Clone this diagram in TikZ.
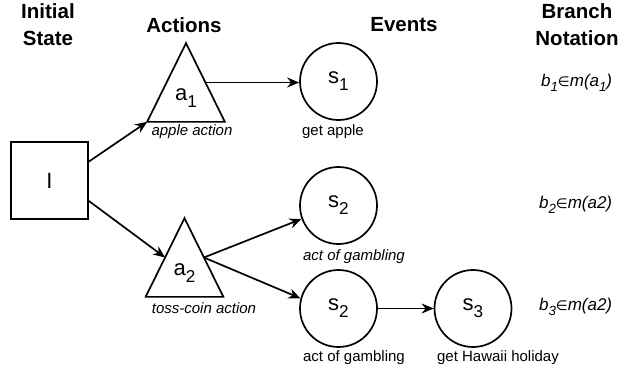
\documentclass[tikz,border=0pt]{standalone}
\usepackage{fontspec}
\setmainfont{Liberation Sans}
\newfontfamily\dejavu{DejaVu Sans}
\usetikzlibrary{arrows.meta,calc}
\newcommand{\lowsub}[1]{\raisebox{-0.32em}{\scalebox{0.78}{#1}}}
\begin{document}
\begin{tikzpicture}[x=1pt,y=-1pt,
  line width=1.7pt,
  hdr/.style={font=\bfseries\fontsize{20.5}{27}\selectfont,align=center,inner sep=0pt},
  statebox/.style={draw,minimum width=77pt,minimum height=77pt,inner sep=0pt,font=\fontsize{22}{22}\selectfont},
  actbox/.style={minimum width=76pt,minimum height=77pt,inner sep=0pt},
  evt/.style={draw,circle,minimum size=77pt,inner sep=0pt,font=\fontsize{22}{22}\selectfont},
  lbl/.style={font=\fontsize{15}{15}\selectfont,inner sep=0pt},
  ilbl/.style={lbl,font=\itshape\fontsize{15}{15}\selectfont},
  bn/.style={font=\itshape\fontsize{17}{17}\selectfont,inner sep=0pt,anchor=east},
  arr/.style={-{Stealth[length=12pt,width=10pt]},line width=1.7pt}]
\useasboundingbox (0,0) rectangle (619,370);
% headers
\node[hdr] (h1) at (48,25) {Initial\\State};
\node[hdr] (h2) at (184,25) {Actions};
\node[hdr] (h3) at (404,25) {Events};
\node[hdr] (h4) at (577,25) {Branch\\Notation};
% initial state
\node[statebox] (I) at (49.5,180.5) {I};
% actions
\node[actbox] (a1) at (186,82.5) {};
\draw[line join=miter] (a1.south west) -- (a1.north) -- (a1.south east) -- cycle;
\node[font=\fontsize{22}{22}\selectfont,inner sep=0pt] (a1t) at (186,98) {a\lowsub{1}};
\node[ilbl] (a1c) at (192,132) {apple action};
\node[actbox] (a2) at (184.5,257.5) {};
\draw[line join=miter] (a2.south west) -- (a2.north) -- (a2.south east) -- cycle;
\node[font=\fontsize{22}{22}\selectfont,inner sep=0pt] (a2t) at (184.5,273) {a\lowsub{2}};
\node[ilbl] (a2c) at (204,308) {toss-coin action};
% events
\node[evt] (s1) at (338.5,81.5) {s\lowsub{1}};
\node[lbl] (s1c) at (333,132) {get apple};
\node[evt] (s2a) at (338.5,205.5) {s\lowsub{2}};
\node[ilbl] (s2ac) at (354,257) {act of gambling};
\node[evt] (s2b) at (338.5,308.5) {s\lowsub{2}};
\node[lbl] (s2bc) at (354,358) {act of gambling};
\node[evt] (s3) at (473,308.5) {s\lowsub{3}};
\node[lbl] (s3c) at (498,358) {get Hawaii holiday};
% branch notation
\node[bn] (b1) at (613,83) {b\lowsub{1}{\dejavu\scalebox{0.8}{∈}}m(a\lowsub{1})};
\node[bn] (b2) at (613,205) {b\lowsub{2}{\dejavu\scalebox{0.8}{∈}}m(a2)};
\node[bn] (b3) at (613,307) {b\lowsub{3}{\dejavu\scalebox{0.8}{∈}}m(a2)};
% connectors
\coordinate (Ie1) at ($(I.north east)!0.26!(I.south east)$);
\coordinate (Ie2) at ($(I.north east)!0.76!(I.south east)$);
\coordinate (a1r) at ($(a1.north)!0.5!(a1.south east)$);
\coordinate (a2l) at ($(a2.north)!0.5!(a2.south west)$);
\coordinate (a2r) at ($(a2.north)!0.5!(a2.south east)$);
\draw[arr] (Ie1) -- (a1.south west);
\draw[arr] (Ie2) -- (a2l);
\draw[arr] (a1r) -- (s1.west |- a1r);
\draw[arr] (a2r) -- (s2a.200);
\draw[arr] (a2r) -- (s2b.165);
\draw[arr] (s2b) -- (s3);
\end{tikzpicture}
\end{document}
